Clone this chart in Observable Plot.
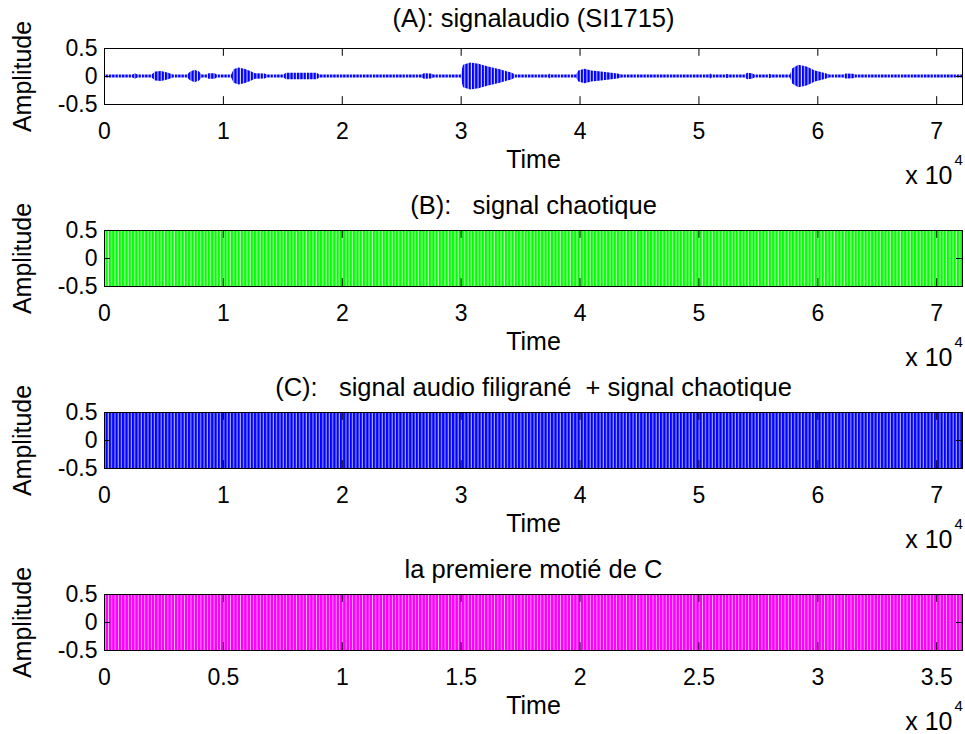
<!DOCTYPE html>
<html><head><meta charset="utf-8">
<script src="https://cdn.jsdelivr.net/npm/d3@7"></script>
<script src="https://cdn.jsdelivr.net/npm/@observablehq/plot@0.6"></script>
<style>
body{margin:0;background:#fff;overflow:hidden}
#fig{position:relative;width:965px;height:734px;background:#fff;overflow:hidden}
.panel{position:absolute;left:0}
.panel svg{overflow:visible}
</style></head><body><div id="fig"></div>
<script>
// ---- data ----
const nSamples = 72170;            // length of the audio / chaotic signals
const halfSamples = 36085;         // first half of C
const titles = [
  "(A): signalaudio (SI1715)",
  "(B):   signal chaotique",
  "(C):   signal audio filigrané  + signal chaotique",
  "la premiere motié de C"
];
const xTicksFull = [0, 10000, 20000, 30000, 40000, 50000, 60000, 70000];
const xTicksHalf = [0, 5000, 10000, 15000, 20000, 25000, 30000, 35000];
const yTicks = [-0.5, 0, 0.5];

// audio signal (A): envelope breakpoints (sample index, amplitude)
const audioTime = [0, 2400, 2600, 2800, 4000, 4300, 4800, 5400, 5800, 7000, 7200, 7600, 8000, 8200, 8600, 8800, 9300, 9500,
  10700, 10900, 11300, 11800, 12300, 12700, 13500, 13700, 15100, 15300, 17900, 18100, 26700, 26900, 27500, 27700,
  30000, 30200, 30800, 31500, 32300, 33300, 34300, 34600, 37400, 37500, 37600, 39700, 39900, 40400, 41000, 41800,
  43200, 43500, 50900, 51000, 51100, 52300, 52400, 52500, 53900, 54100, 54500, 54700, 55900, 56000, 56100,
  57700, 57900, 58400, 59100, 59800, 60700, 61000, 62200, 62400, 63000, 63200, 72170];
const audioEnv = [0.027, 0.027, 0.05, 0.027, 0.027, 0.08, 0.09, 0.06, 0.027, 0.027, 0.07, 0.11, 0.08, 0.027, 0.027, 0.05, 0.05, 0.027,
  0.027, 0.12, 0.15, 0.13, 0.09, 0.05, 0.045, 0.027, 0.027, 0.06, 0.06, 0.027, 0.027, 0.05, 0.045, 0.027,
  0.027, 0.2, 0.24, 0.22, 0.17, 0.12, 0.06, 0.027, 0.027, 0.045, 0.027, 0.027, 0.1, 0.13, 0.1, 0.08,
  0.045, 0.027, 0.027, 0.045, 0.027, 0.027, 0.04, 0.027, 0.027, 0.06, 0.05, 0.027, 0.027, 0.04, 0.027,
  0.027, 0.14, 0.2, 0.17, 0.1, 0.05, 0.027, 0.027, 0.045, 0.04, 0.027, 0.027];

// chaotic signals (B, C, D): observed extremes per segment
const chaosSegTime = [0, 10000, 20000, 30000, 40000, 50000, 60000, 70000, 72170];
const chaosMin = [-0.5, -0.5, -0.5, -0.5, -0.5, -0.5, -0.5, -0.5, -0.5];
const chaosMax = [0.5, 0.5, 0.5, 0.5, 0.5, 0.5, 0.5, 0.5, 0.5];
const halfSegTime = [0, 5000, 10000, 15000, 20000, 25000, 30000, 35000, 36085];
const halfMin = [-0.5, -0.5, -0.5, -0.5, -0.5, -0.5, -0.5, -0.5, -0.5];
const halfMax = [0.5, 0.5, 0.5, 0.5, 0.5, 0.5, 0.5, 0.5, 0.5];

// ---- drawing ----
const FONT = "Liberation Sans, Arial, Helvetica, sans-serif";
const fig = document.getElementById("fig");
const audio = audioTime.map((t, i) => ({t, lo: -audioEnv[i], hi: audioEnv[i]}));
const chaos = chaosSegTime.map((t, i) => ({t, lo: chaosMin[i], hi: chaosMax[i]}));
const half = halfSegTime.map((t, i) => ({t, lo: halfMin[i], hi: halfMax[i]}));

function stripes(id, color, light, period, w) {
  return `<pattern id="${id}" patternUnits="userSpaceOnUse" width="${period}" height="10">
    <rect width="${period}" height="10" fill="${light}"/><rect width="${w}" height="10" fill="${color}"/></pattern>`;
}

function panel(k, top, xMax, xTicks, data, fill, defs, titleDy) {
  const tickY = 0.14, tickX = xMax * 0.007;
  const svg = Plot.plot({
    width: 965, height: 180, marginTop: 40, marginBottom: 84, marginLeft: 104, marginRight: 3,
    style: {fontSize: "23px", fontFamily: FONT, color: "black", background: "white", overflow: "visible"},
    x: {domain: [0, xMax], axis: null, label: null},
    y: {domain: [-0.5, 0.5], axis: null, label: null},
    marks: [
      Plot.areaY(data, {x: "t", y1: "lo", y2: "hi", fill, curve: "linear"}),
      Plot.ruleX(xTicks, {y1: 0.5, y2: 0.5 - tickY, stroke: "black"}),
      Plot.ruleX(xTicks, {y1: -0.5, y2: -0.5 + tickY, stroke: "black"}),
      Plot.ruleY(yTicks, {x1: 0, x2: tickX, stroke: "black"}),
      Plot.ruleY(yTicks, {x1: xMax, x2: xMax - tickX, stroke: "black"}),
      Plot.frame({stroke: "black"}),
      Plot.axisX(xTicks, {anchor: "bottom", label: null, tickSize: 0, tickPadding: 18, fontSize: 23, tickFormat: d => String(d / 1e4)}),
      Plot.axisY(yTicks, {anchor: "left", label: null, tickSize: 0, tickPadding: 7, fontSize: 23, tickFormat: d => String(d)}),
      Plot.text([titles[k]], {text: d => d, frameAnchor: "top", dy: titleDy, lineAnchor: "middle", fontSize: 25.5}),
      Plot.text(["Amplitude"], {text: d => d, frameAnchor: "left", textAnchor: "middle", lineAnchor: "middle", rotate: -90, dx: -82, fontSize: 25}),
      Plot.text(["Time"], {text: d => d, frameAnchor: "bottom", dy: 55, lineAnchor: "middle", fontSize: 25}),
      Plot.text(["x 10"], {text: d => d, frameAnchor: "bottom-right", textAnchor: "end", dx: -10, dy: 71, lineAnchor: "middle", fontSize: 25}),
      Plot.text(["4"], {text: d => d, frameAnchor: "bottom-right", textAnchor: "start", dx: -8, dy: 56, fontSize: 15, lineAnchor: "middle"})
    ]
  });
  if (defs) svg.insertAdjacentHTML("afterbegin", `<defs>${defs}</defs>`);
  const div = document.createElement("div");
  div.className = "panel";
  div.style.top = top + "px";
  div.appendChild(svg);
  fig.appendChild(div);
}

panel(0, 8, nSamples, xTicksFull, audio, "url(#stA)", stripes("stA", "#0000ff", "#e0e0ff", 3.3, 2.3), -30);
panel(1, 190, nSamples, xTicksFull, chaos, "url(#stB)", stripes("stB", "#00ff00", "#c0ffc0", 3.3, 2.2), -25);
panel(2, 372, nSamples, xTicksFull, chaos, "url(#stC)", stripes("stC", "#0000ff", "#a8a8ff", 3.3, 2.2), -25);
panel(3, 554, halfSamples, xTicksHalf, half, "url(#stD)", stripes("stD", "#ff00ff", "#ffc0ff", 3.3, 2.5), -25);
</script></body></html>
